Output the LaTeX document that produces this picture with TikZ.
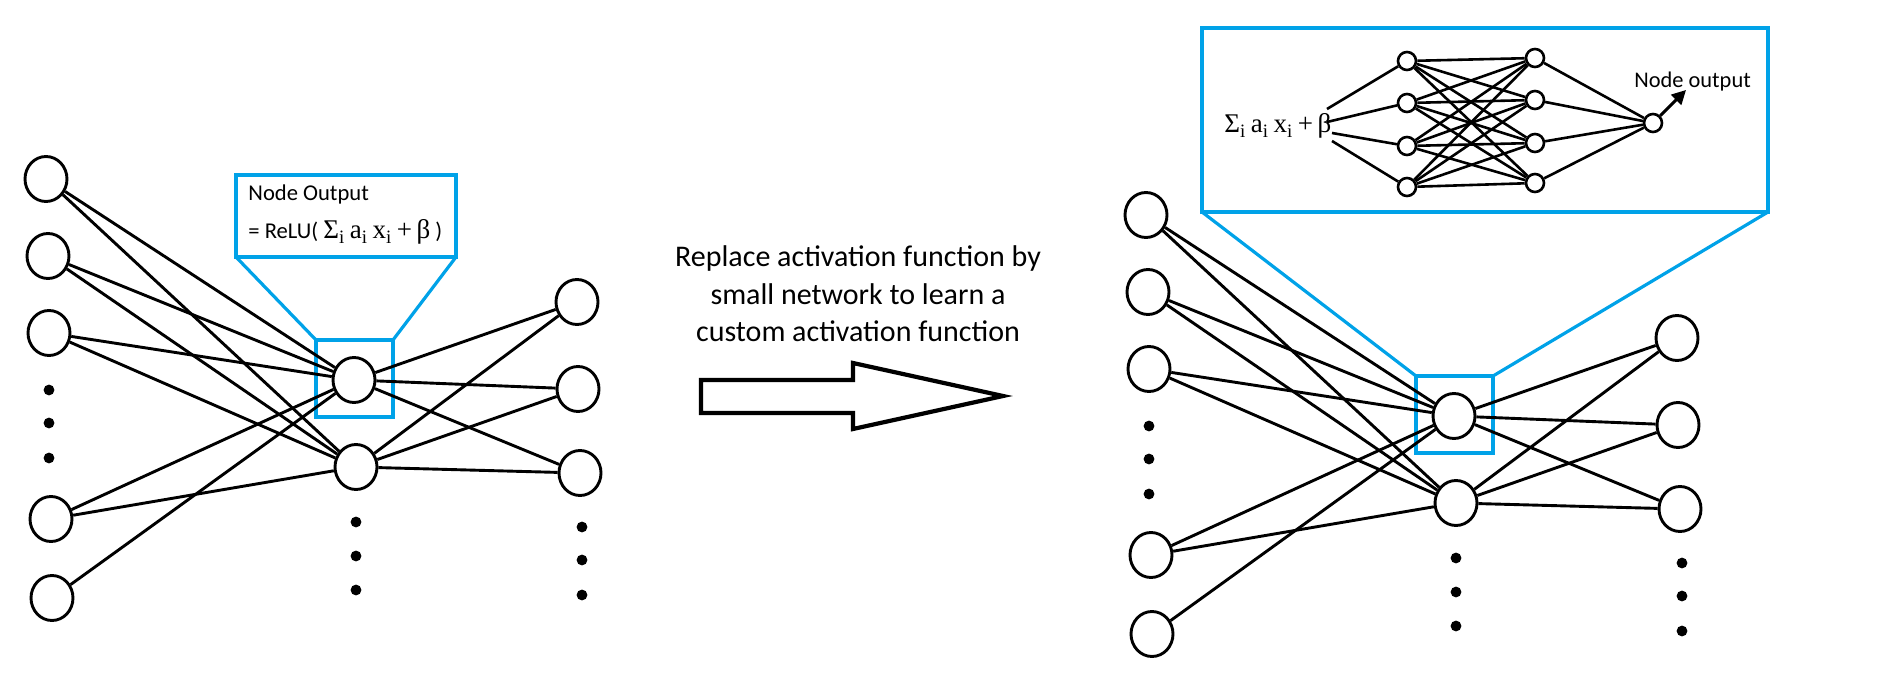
\documentclass[tikz,border=0pt]{standalone}
\usepackage{fontspec}
\setmainfont{Carlito}
\newfontfamily\sumfont{Liberation Serif}
\usetikzlibrary{arrows.meta,shapes.geometric}
\definecolor{paintblue}{RGB}{0,162,232}
\newcommand\sumexpr{{\sumfont\fontsize{13.5}{15}\selectfont Σ\textsubscript{i}\,a\textsubscript{i}\,x\textsubscript{i}\,+\,β}}

\begin{document}
\begin{tikzpicture}[x=0.5pt,y=-0.5pt,
    unit/.style={draw,ellipse,line width=1.45pt,minimum width=21pt,minimum height=22.5pt,inner sep=0pt},
    tiny/.style={draw,circle,line width=1.3pt,minimum size=9pt,inner sep=0pt},
    dotnode/.style={circle,fill,inner sep=0pt,minimum size=5.4pt},
    link/.style={line width=1.45pt},
    zoomline/.style={draw=paintblue,line width=1.6pt}]
\useasboundingbox (0,0) rectangle (1889,678);

% Corners of the zoom boxes
\coordinate (LboxA) at (236,175);
\coordinate (LboxB) at (456,257);
\coordinate (LmagA) at (316,340);
\coordinate (LmagB) at (393,417);
\coordinate (RboxA) at (1202,28);
\coordinate (RboxB) at (1768,212);
\coordinate (RmagA) at (1416,376);
\coordinate (RmagB) at (1493,453);

% Draw the zoom boxes and the lines joining them
\draw[zoomline] (LboxA) rectangle (LboxB);
\draw[zoomline] (LmagA) rectangle (LmagB);
\draw[zoomline] (LboxA |- LboxB) -- (LmagA);
\draw[zoomline] (LboxB) -- (LmagA -| LmagB);
\draw[zoomline] (RboxA) rectangle (RboxB);
\draw[zoomline] (RmagA) rectangle (RmagB);
\draw[zoomline] (RboxA |- RboxB) -- (RmagA);
\draw[zoomline] (RboxB) -- (RmagA -| RmagB);

% The same network twice, the second copy shifted to the right
\foreach \n/\dx/\dy in {L/0/0,R/1100/36}{
  \begin{scope}[shift={(\dx,\dy)}]
    \node[unit] (\n-i1) at (46,179) {};
    \node[unit] (\n-i2) at (48,256) {};
    \node[unit] (\n-i3) at (49,333) {};
    \node[unit] (\n-i4) at (51,519) {};
    \node[unit] (\n-i5) at (52,598) {};
    \node[unit] (\n-h1) at (354,380) {};
    \node[unit] (\n-h2) at (356,467) {};
    \node[unit] (\n-o1) at (577,302) {};
    \node[unit] (\n-o2) at (578,389) {};
    \node[unit] (\n-o3) at (580,473) {};
    \foreach \y [count=\k] in {390,423,458} \node[dotnode] (\n-di\k) at (49,\y) {};
    \foreach \y [count=\k] in {522,556,590} \node[dotnode] (\n-dh\k) at (356,\y) {};
    \foreach \y [count=\k] in {527,560,595} \node[dotnode] (\n-do\k) at (582,\y) {};
    % Connections
    \foreach \a in {1,...,5} \draw[link] (\n-i\a) -- (\n-h1);
    \foreach \a in {1,...,4} \draw[link] (\n-i\a) -- (\n-h2);
    \foreach \b in {1,2} \foreach \c in {1,2,3} \draw[link] (\n-h\b) -- (\n-o\c);
  \end{scope}
}

% Text of the left zoom box
\node[anchor=base west,inner sep=0pt,font=\fontsize{11.3}{13}\selectfont] (relutop) at (248,201) {Node Output};
\node[anchor=base west,inner sep=0pt,font=\fontsize{11.3}{13}\selectfont] (relu) at (248,239) {= ReLU( \sumexpr\ )};

% Small network inside the right zoom box
\node[anchor=base west,inner sep=0pt] (sum) at (1224,133) {\sumexpr};
\coordinate (s1) at (1327,109);
\coordinate (s2) at (1327,122);
\coordinate (s3) at (1332,133);
\coordinate (s4) at (1332,141);
\foreach \y [count=\k] in {61,103,146,187} \node[tiny] (A\k) at (1407,\y) {};
\foreach \y [count=\k] in {58,100,143,183} \node[tiny] (B\k) at (1535,\y) {};
\node[tiny] (out) at (1653,123) {};
\foreach \a in {1,...,4} \draw[link,line width=1.3pt] (s\a) -- (A\a);
\foreach \a in {1,...,4} \foreach \b in {1,...,4} \draw[link,line width=1.3pt] (A\a) -- (B\b);
\foreach \b in {1,...,4} \draw[link,line width=1.3pt] (B\b) -- (out);
\coordinate (tip) at (1686,90);
\draw[link,-{Triangle[length=7pt,width=7pt]}] (out) -- (tip);
\node[anchor=base west,inner sep=0pt,font=\fontsize{11.2}{13}\selectfont] (outlabel) at (1634,88) {Node output};

% Middle text and the big arrow
\node[align=center,font=\fontsize{15}{18.75}\selectfont] (caption) at (858,294)
  {Replace activation function by\\small network to learn a\\custom activation function};
\draw[line width=2.1pt,line join=miter] (701,380) -- (853,380) -- (853,363) -- (1003,396)
  -- (853,429) -- (853,413) -- (701,413) -- cycle;

\end{tikzpicture}
\end{document}
